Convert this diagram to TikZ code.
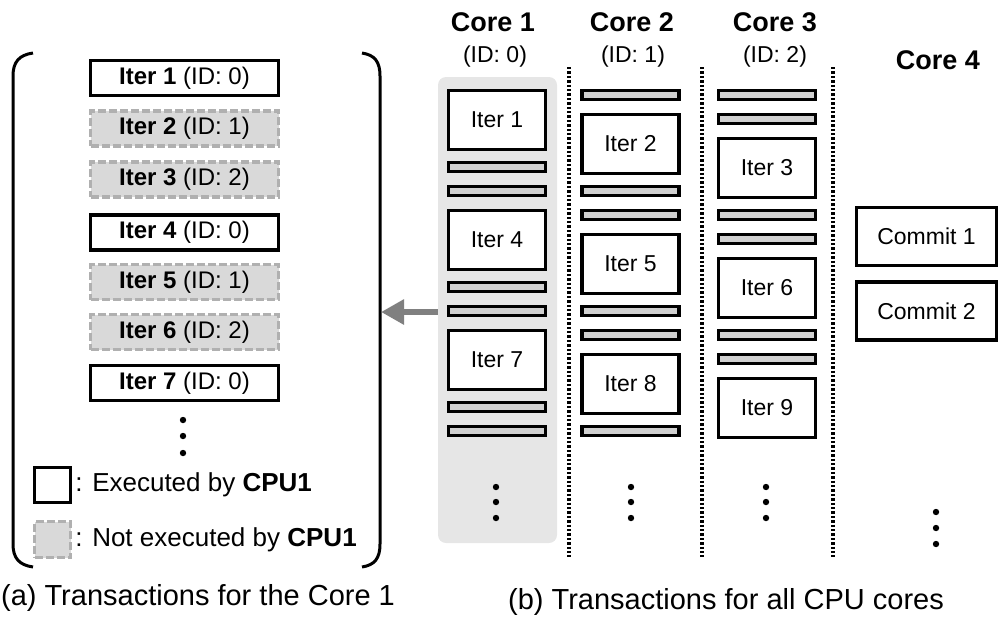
\documentclass[tikz,border=0pt]{standalone}
\usepackage{fontspec}
\setmainfont{Liberation Sans}
\usetikzlibrary{arrows.meta}
\definecolor{bargray}{HTML}{D0D0D0}
\definecolor{bggray}{HTML}{E6E6E6}
\definecolor{dashfill}{HTML}{D9D9D9}
\definecolor{dashline}{HTML}{B0B0B0}
\definecolor{arrowgray}{HTML}{808080}
\begin{document}
\begin{tikzpicture}[x=0.5pt,y=-0.5pt,
  lbox/.style={draw=black, line width=1.6pt, fill=white, minimum width=94pt, minimum height=17.5pt, inner sep=0pt, font=\fontsize{12}{14}\selectfont},
  lboxd/.style={lbox, draw=dashline, fill=dashfill, dash pattern=on 4pt off 1.5pt},
  iterbox/.style={draw=black, line width=1.6pt, fill=white, minimum width=48.5pt, minimum height=29.5pt, inner sep=0pt, font=\fontsize{11.5}{13}\selectfont},
  barbox/.style={draw=black, line width=1.6pt, fill=bargray, minimum width=48.5pt, minimum height=4.5pt, inner sep=0pt},
  commitbox/.style={iterbox, minimum width=70pt, minimum height=29pt},
  dotnode/.style={circle, fill=black, inner sep=0pt, minimum size=3.2pt},
  coretitle/.style={font=\bfseries\fontsize{13.5}{15}\selectfont, inner sep=0pt},
  idlabel/.style={font=\fontsize{11.5}{13}\selectfont, inner sep=0pt},
  caption/.style={font=\fontsize{14.5}{16}\selectfont, inner sep=0pt},
  legendtext/.style={font=\fontsize{13}{15}\selectfont, inner sep=0pt, anchor=west},
  sepline/.style={line width=1.7pt, dash pattern=on 1.2pt off 1pt},
  bracket/.style={line width=1.5pt},
  bigarrow/.style={draw=arrowgray, line width=3pt, -{Triangle[length=11.5pt,width=12pt]}}
]
\useasboundingbox (0,0) rectangle (1000,622);

% ---------- (a) left panel ----------
\draw[bracket] (33,53) .. controls (19,55) and (13,62) .. (13,76) -- (13,544) .. controls (13,558) and (19,565) .. (33,567);
\draw[bracket] (362,53) .. controls (375,55) and (380,62) .. (380,76) -- (380,544) .. controls (380,558) and (375,565) .. (362,567);
\coordinate (rb) at (381,312);

\node[lbox]  (a1) at (184.5,78)    {\textbf{Iter 1} (ID: 0)};
\node[lboxd] (a2) at (184.5,128.5) {\textbf{Iter 2} (ID: 1)};
\node[lboxd] (a3) at (184.5,179.5) {\textbf{Iter 3} (ID: 2)};
\node[lbox]  (a4) at (184.5,232.5) {\textbf{Iter 4} (ID: 0)};
\node[lboxd] (a5) at (184.5,282)   {\textbf{Iter 5} (ID: 1)};
\node[lboxd] (a6) at (184.5,332)   {\textbf{Iter 6} (ID: 2)};
\node[lbox]  (a7) at (184.5,383)   {\textbf{Iter 7} (ID: 0)};
\node[dotnode] (ad1) at (183,420) {};
\node[dotnode] (ad2) at (183,436) {};
\node[dotnode] (ad3) at (183,453) {};

\node[lbox, minimum width=18pt, minimum height=17.5pt] (lg1) at (52.5,485) {};
\node[lboxd, minimum width=18pt, minimum height=18pt] (lg2) at (52.5,539.5) {};
\node[legendtext] (lt1) at (75,485) {: Executed by \textbf{CPU1}};
\node[legendtext] (lt2) at (75,540) {: Not executed by \textbf{CPU1}};

\node[caption] (capa) at (198,598) {(a) Transactions for the Core 1};

% ---------- (b) right panel ----------
\node[draw=none, fill=bggray, rounded corners=4pt, minimum width=59.5pt, minimum height=233pt, inner sep=0pt] (bg1) at (497.5,310) {};

\node[coretitle] (t1) at (493,22) {Core 1};
\node[idlabel]   (i1) at (495,57) {(ID: 0)};
\node[coretitle] (t2) at (632,22) {Core 2};
\node[idlabel]   (i2) at (633,57) {(ID: 1)};
\node[coretitle] (t3) at (775,22) {Core 3};
\node[idlabel]   (i3) at (775,57) {(ID: 2)};
\node[coretitle] (t4) at (938,60) {Core 4};

\draw[sepline] (569,67) -- (569,557);
\draw[sepline] (702,67) -- (702,557);
\draw[sepline] (833,67) -- (833,557);

% Core 1
\node[iterbox] (c1i1) at (497,{89+24*0+31})  {Iter 1};
\node[barbox]  (c1b1) at (497,{89+24*3+6})   {};
\node[barbox]  (c1b2) at (497,{89+24*4+6})   {};
\node[iterbox] (c1i4) at (497,{89+24*5+31})  {Iter 4};
\node[barbox]  (c1b3) at (497,{89+24*8+6})   {};
\node[barbox]  (c1b4) at (497,{89+24*9+6})   {};
\node[iterbox] (c1i7) at (497,{89+24*10+31}) {Iter 7};
\node[barbox]  (c1b5) at (497,{89+24*13+6})  {};
\node[barbox]  (c1b6) at (497,{89+24*14+6})  {};
\node[dotnode] (c1d1) at (496,487) {};
\node[dotnode] (c1d2) at (496,502) {};
\node[dotnode] (c1d3) at (496,518) {};

% Core 2
\node[barbox]  (c2b1) at (630.5,{89+24*0+6})   {};
\node[iterbox] (c2i2) at (630.5,{89+24*1+31})  {Iter 2};
\node[barbox]  (c2b2) at (630.5,{89+24*4+6})   {};
\node[barbox]  (c2b3) at (630.5,{89+24*5+6})   {};
\node[iterbox] (c2i5) at (630.5,{89+24*6+31})  {Iter 5};
\node[barbox]  (c2b4) at (630.5,{89+24*9+6})   {};
\node[barbox]  (c2b5) at (630.5,{89+24*10+6})  {};
\node[iterbox] (c2i8) at (630.5,{89+24*11+31}) {Iter 8};
\node[barbox]  (c2b6) at (630.5,{89+24*14+6})  {};
\node[dotnode] (c2d1) at (631,487) {};
\node[dotnode] (c2d2) at (631,502) {};
\node[dotnode] (c2d3) at (631,518) {};

% Core 3
\node[barbox]  (c3b1) at (767,{89+24*0+6})   {};
\node[barbox]  (c3b2) at (767,{89+24*1+6})   {};
\node[iterbox] (c3i3) at (767,{89+24*2+31})  {Iter 3};
\node[barbox]  (c3b3) at (767,{89+24*5+6})   {};
\node[barbox]  (c3b4) at (767,{89+24*6+6})   {};
\node[iterbox] (c3i6) at (767,{89+24*7+31})  {Iter 6};
\node[barbox]  (c3b5) at (767,{89+24*10+6})  {};
\node[barbox]  (c3b6) at (767,{89+24*11+6})  {};
\node[iterbox] (c3i9) at (767,{89+24*12+31}) {Iter 9};
\node[dotnode] (c3d1) at (766,487) {};
\node[dotnode] (c3d2) at (766,502) {};
\node[dotnode] (c3d3) at (766,518) {};

% Core 4
\node[commitbox] (cm1) at (926.5,236.5) {Commit 1};
\node[commitbox] (cm2) at (926.5,311)   {Commit 2};
\node[dotnode] (c4d1) at (936,512) {};
\node[dotnode] (c4d2) at (936,528) {};
\node[dotnode] (c4d3) at (936,544) {};

\node[caption] (capb) at (726,602) {(b) Transactions for all CPU cores};

% arrow
\draw[bigarrow] (bg1.west |- rb) -- (rb);
\end{tikzpicture}
\end{document}
